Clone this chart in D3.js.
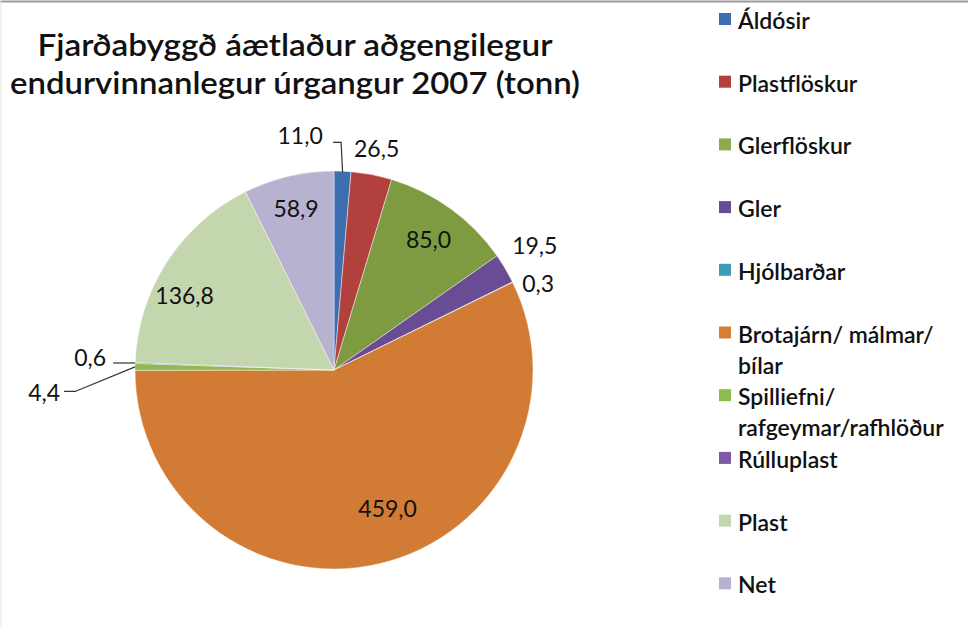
<!DOCTYPE html>
<html>
<head>
<meta charset="utf-8">
<script src="https://cdn.jsdelivr.net/npm/d3@7"></script>
<style>
  html, body { margin: 0; padding: 0; background: #fff; }
  svg { display: block; }
</style>
</head>
<body>
<script>
// ---- data ----
const categories = ["Áldósir", "Plastflöskur", "Glerflöskur", "Gler", "Hjólbarðar",
  "Brotajárn/ málmar/ bílar", "Spilliefni/ rafgeymar/rafhlöður", "Rúlluplast", "Plast", "Net"];
const values = [11.0, 26.5, 85.0, 19.5, 0.3, 459.0, 4.4, 0.6, 136.8, 58.9];
const legendLines = [["Áldósir"], ["Plastflöskur"], ["Glerflöskur"], ["Gler"], ["Hjólbarðar"],
  ["Brotajárn/ málmar/", "bílar"], ["Spilliefni/", "rafgeymar/rafhlöður"], ["Rúlluplast"], ["Plast"], ["Net"]];
const titleLines = ["Fjarðabyggð áætlaður aðgengilegur", "endurvinnanlegur úrgangur 2007 (tonn)"];

// ---- styles / layout ----
const colors = ["#3D6FB0", "#B2403D", "#7E9B42", "#6A4C94", "#3F9CB5",
  "#D27B35", "#8DBB4E", "#7B5BA6", "#C4D6AE", "#B9B1D0"];
const legendColors = ["#3D6FB0", "#B2403D", "#8FA94F", "#6A4C94", "#3F9CB5",
  "#D77E36", "#8DBB4E", "#7B5BA6", "#C4D6AE", "#B9B1D0"];
// label placement: [radius factor, dx, dy]
const labelPlace = [[1.18, -44, 0], [1.135, 0, 0], [0.81, 0, 0], [1.19, -3, -4], [1.115, 5, 11],
  [0.745, 20, -6], [1.457, 0, 27], [1.226, 0, -4], [0.84, -9, 16], [0.835, 0, 0]];

const W = 968, H = 628;
const cx = 334, cy = 370, R = 199;

const svg = d3.select("body").append("svg").attr("width", W).attr("height", H);
svg.append("rect").attr("width", W).attr("height", H).attr("fill", "#fff");
svg.append("line").attr("x1", 0).attr("x2", W).attr("y1", 1.5).attr("y2", 1.5)
  .attr("stroke", "#9a9a9a").attr("stroke-width", 2);
svg.append("line").attr("x1", 1).attr("x2", 1).attr("y1", 0).attr("y2", H)
  .attr("stroke", "#e4e4e4").attr("stroke-width", 1);

// title
const titleWidths = [515, 570];
svg.append("g").selectAll("text").data(titleLines).join("text")
  .attr("x", 295).attr("y", (d, i) => 56 + i * 38)
  .attr("text-anchor", "middle")
  .attr("font-family", "Lato, 'Open Sans', sans-serif")
  .attr("font-weight", 600).attr("font-size", 31)
  .attr("fill", "#111")
  .attr("textLength", (d, i) => titleWidths[i]).attr("lengthAdjust", "spacingAndGlyphs")
  .text(d => d);

// pie
const data = categories.map((c, i) => ({ name: c, value: values[i], i }));
const pie = d3.pie().sort(null).value(d => d.value).startAngle(0).endAngle(2 * Math.PI);
const arcs = pie(data);
const arc = d3.arc().innerRadius(0).outerRadius(R);
const g = svg.append("g").attr("transform", `translate(${cx},${cy})`);
g.selectAll("path").data(arcs).join("path")
  .attr("d", arc)
  .attr("fill", d => colors[d.data.i])
  .attr("stroke", "rgba(255,255,255,0.55)").attr("stroke-width", 0.8);

function polar(a, r) { return [r * Math.sin(a), -r * Math.cos(a)]; }
const fmt = v => v.toFixed(1).replace(".", ",");

const labelPos = arcs.map(d => {
  const mid = (d.startAngle + d.endAngle) / 2;
  const p = labelPlace[d.data.i];
  const [x, y] = polar(mid, R * p[0]);
  return [x + p[1], y + p[2]];
});

g.selectAll("text.lbl").data(arcs).join("text").attr("class", "lbl")
  .attr("x", (d, k) => labelPos[k][0]).attr("y", (d, k) => labelPos[k][1])
  .attr("text-anchor", "middle").attr("dominant-baseline", "central")
  .attr("font-family", "Lato, sans-serif").attr("font-size", 23)
  .attr("fill", "#111")
  .text(d => fmt(d.data.value));

// leader lines for small slices whose labels are offset
const leaderIdx = [0, 6, 7];
leaderIdx.forEach(i => {
  const d = arcs[i];
  const mid = (d.startAngle + d.endAngle) / 2;
  const edge = polar(mid, R);
  const lp = labelPos[i];
  let pts;
  if (i === 0) {
    pts = [[lp[0] + 33, lp[1] + 7], [lp[0] + 41, lp[1] + 7], [edge[0], edge[1] + 1]];
  } else if (i === 6) {
    pts = [[lp[0] + 20, lp[1] - 1], [lp[0] + 31, lp[1] - 1], [edge[0], edge[1]]];
  } else {
    pts = [[lp[0] + 23, edge[1]], [edge[0], edge[1]]];
  }
  g.append("path").attr("d", d3.line()(pts))
    .attr("fill", "none").attr("stroke", "#333").attr("stroke-width", 1.2);
});

// legend
const legY0 = 19, legStep = 62.7;
const leg = svg.append("g");
legendLines.forEach((lines, i) => {
  const y = legY0 + i * legStep;
  leg.append("rect").attr("x", 719).attr("y", y - 6).attr("width", 12).attr("height", 12)
    .attr("fill", legendColors[i]);
  lines.forEach((t, j) => {
    leg.append("text").attr("x", 738).attr("y", y + j * 31 + 1)
      .attr("dominant-baseline", "central")
      .attr("font-family", "Lato, sans-serif").attr("font-size", 23)
      .attr("font-weight", 600)
      .attr("fill", "#111").text(t);
  });
});
</script>
</body>
</html>
